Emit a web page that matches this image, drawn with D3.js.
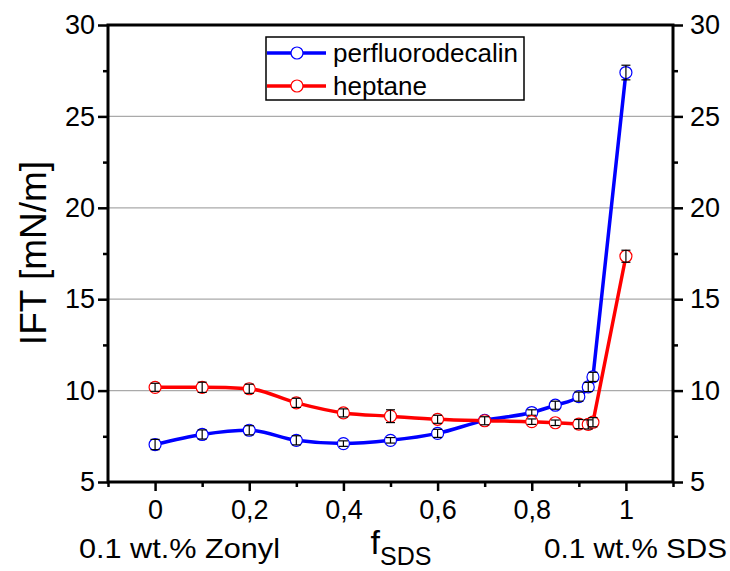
<!DOCTYPE html>
<html>
<head>
<meta charset="utf-8">
<script src="https://cdn.jsdelivr.net/npm/d3@7"></script>
<style>
  body { margin: 0; background: white; }
  text { font-family: "Liberation Sans", Arial, sans-serif; }
</style>
</head>
<body>
<div id="chart"></div>
<script>
// IFT vs f_SDS

const fSDS = [0, 0.1, 0.2, 0.3, 0.4, 0.5, 0.6, 0.7, 0.8, 0.85, 0.9, 0.92, 0.93, 1];
const perfluorodecalin = [7.05, 7.6, 7.83, 7.28, 7.1, 7.28, 7.66, 8.37, 8.8, 9.2, 9.67, 10.2, 10.75, 27.4];
const perfluorodecalinErr = [0.28, 0.25, 0.25, 0.25, 0.15, 0.15, 0.22, 0.22, 0.15, 0.22, 0.25, 0.25, 0.25, 0.4];
const heptane = [10.18, 10.18, 10.1, 9.33, 8.78, 8.6, 8.43, 8.35, 8.3, 8.24, 8.17, 8.15, 8.27, 17.35];
const heptaneErr = [0.22, 0.28, 0.25, 0.25, 0.22, 0.35, 0.22, 0.22, 0.15, 0.15, 0.25, 0.25, 0.25, 0.33];

const xTicks = [0, 0.2, 0.4, 0.6, 0.8, 1];
const xMinor = [-0.1, 0.1, 0.3, 0.5, 0.7, 0.9, 1.1];
const yTicks = [5, 10, 15, 20, 25, 30];
const yMinor = [7.5, 12.5, 17.5, 22.5, 27.5];
const gridLines = [10, 15, 20, 25];

const width = 730, height = 571;
const margin = { top: 25, right: 57, bottom: 89, left: 108 };

const series = [
    { name: "perfluorodecalin", color: "#0000ff", values: perfluorodecalin, errs: perfluorodecalinErr },
    { name: "heptane", color: "#ff0000", values: heptane, errs: heptaneErr }
];

const svg = d3.select("#chart")
    .append("svg")
    .attr("width", width)
    .attr("height", height);

const x = d3.scaleLinear()
    .domain([-0.1, 1.1])
    .range([margin.left, width - margin.right]);

const y = d3.scaleLinear()
    .domain([5, 30])
    .range([height - margin.bottom, margin.top]);

const commaFmt = d => String(d).replace(".", ",");

// Grid lines
svg.selectAll("line.grid")
    .data(gridLines)
    .enter()
    .append("line")
    .attr("class", "grid")
    .attr("x1", x(-0.1))
    .attr("x2", x(1.1))
    .attr("y1", d => y(d))
    .attr("y2", d => y(d))
    .attr("stroke", "#aaaaaa")
    .attr("stroke-width", 1.2);

// Axes
function styleAxis(g) {
    g.select(".domain").remove();
    g.selectAll(".tick line").attr("stroke", "black").attr("stroke-width", 2.5);
    g.selectAll(".tick text").attr("fill", "black").attr("font-size", "27px")
        .attr("font-family", "Liberation Sans, Arial, sans-serif");
}

svg.append("g")
    .attr("transform", `translate(0, ${y(5)})`)
    .call(d3.axisBottom(x).tickValues(xTicks).tickFormat(commaFmt).tickSize(9).tickPadding(9))
    .call(styleAxis);
svg.append("g")
    .attr("transform", `translate(0, ${y(5)})`)
    .call(d3.axisBottom(x).tickValues(xMinor).tickFormat("").tickSize(5))
    .call(styleAxis);

svg.append("g")
    .attr("transform", `translate(${x(-0.1)}, 0)`)
    .call(d3.axisLeft(y).tickValues(yTicks).tickSize(10).tickPadding(3))
    .call(styleAxis);
svg.append("g")
    .attr("transform", `translate(${x(-0.1)}, 0)`)
    .call(d3.axisLeft(y).tickValues(yMinor).tickFormat("").tickSize(5))
    .call(styleAxis);

svg.append("g")
    .attr("transform", `translate(${x(1.1)}, 0)`)
    .call(d3.axisRight(y).tickValues(yTicks).tickSize(10).tickPadding(7))
    .call(styleAxis);
svg.append("g")
    .attr("transform", `translate(${x(1.1)}, 0)`)
    .call(d3.axisRight(y).tickValues(yMinor).tickFormat("").tickSize(5))
    .call(styleAxis);

// Frame
svg.append("rect")
    .attr("x", x(-0.1))
    .attr("y", y(30))
    .attr("width", x(1.1) - x(-0.1))
    .attr("height", y(5) - y(30))
    .attr("fill", "none")
    .attr("stroke", "black")
    .attr("stroke-width", 3);

// Lines: smooth spline up to 0.93, straight jump to the last point
const line = d3.line()
    .x(d => x(d[0]))
    .y(d => y(d[1]))
    .curve(d3.curveMonotoneX);

series.forEach(s => {
    const pts = s.values.map((v, i) => [fSDS[i], v]);
    const last = pts[pts.length - 1];
    const d = line(pts.slice(0, -1)) + `L${x(last[0])},${y(last[1])}`;
    svg.append("path")
        .attr("d", d)
        .attr("fill", "none")
        .attr("stroke", s.color)
        .attr("stroke-width", 3.5)
        .attr("stroke-linejoin", "round");
});

// Markers + error bars
series.forEach(s => {
    const pts = s.values.map((v, i) => ({ x: fSDS[i], v: v, e: s.errs[i] }));
    const g = svg.append("g");

    g.selectAll("circle")
        .data(pts)
        .enter()
        .append("circle")
        .attr("cx", d => x(d.x))
        .attr("cy", d => y(d.v))
        .attr("r", 6)
        .attr("fill", "white")
        .attr("stroke", s.color)
        .attr("stroke-width", 1.2);

    g.selectAll("line.err")
        .data(pts)
        .enter()
        .append("line")
        .attr("class", "err")
        .attr("x1", d => x(d.x))
        .attr("x2", d => x(d.x))
        .attr("y1", d => y(d.v - d.e))
        .attr("y2", d => y(d.v + d.e))
        .attr("stroke", "black")
        .attr("stroke-width", 1.2);

    [-1, 1].forEach(sign => {
        g.selectAll(null)
            .data(pts)
            .enter()
            .append("line")
            .attr("x1", d => x(d.x) - 4.5)
            .attr("x2", d => x(d.x) + 4.5)
            .attr("y1", d => y(d.v + sign * d.e))
            .attr("y2", d => y(d.v + sign * d.e))
            .attr("stroke", "black")
            .attr("stroke-width", 1.2);
    });
});

// Legend
const legend = svg.append("g");
legend.append("rect")
    .attr("x", 266)
    .attr("y", 37)
    .attr("width", 258)
    .attr("height", 63)
    .attr("fill", "white")
    .attr("stroke", "black")
    .attr("stroke-width", 1.5);

series.forEach((s, i) => {
    const ly = 53 + i * 33;
    legend.append("line")
        .attr("x1", 267).attr("x2", 326)
        .attr("y1", ly).attr("y2", ly)
        .attr("stroke", s.color)
        .attr("stroke-width", 3.5);
    legend.append("circle")
        .attr("cx", 297).attr("cy", ly).attr("r", 6)
        .attr("fill", "white")
        .attr("stroke", s.color)
        .attr("stroke-width", 1.2);
    legend.append("text")
        .attr("x", 333)
        .attr("y", ly + 9)
        .attr("font-size", "26px")
        .attr("fill", "black")
        .text(s.name);
});

// Axis titles
svg.append("text")
    .attr("transform", `translate(46, 253) rotate(-90)`)
    .attr("text-anchor", "middle")
    .attr("font-size", "37px")
    .attr("fill", "black")
    .text("IFT [mN/m]");

const xTitle = svg.append("text")
    .attr("x", 401)
    .attr("y", 554)
    .attr("text-anchor", "middle")
    .attr("fill", "black");
xTitle.append("tspan").attr("font-size", "34px").text("f");
xTitle.append("tspan").attr("font-size", "25px").attr("dy", 11).text("SDS");

svg.append("text")
    .attr("x", 79)
    .attr("y", 558)
    .attr("font-size", "28px")
    .attr("textLength", 201)
    .attr("lengthAdjust", "spacingAndGlyphs")
    .attr("fill", "black")
    .text("0.1 wt.% Zonyl");

svg.append("text")
    .attr("x", 544)
    .attr("y", 558)
    .attr("font-size", "28px")
    .attr("textLength", 183)
    .attr("lengthAdjust", "spacingAndGlyphs")
    .attr("fill", "black")
    .text("0.1 wt.% SDS");
</script>
</body>
</html>
